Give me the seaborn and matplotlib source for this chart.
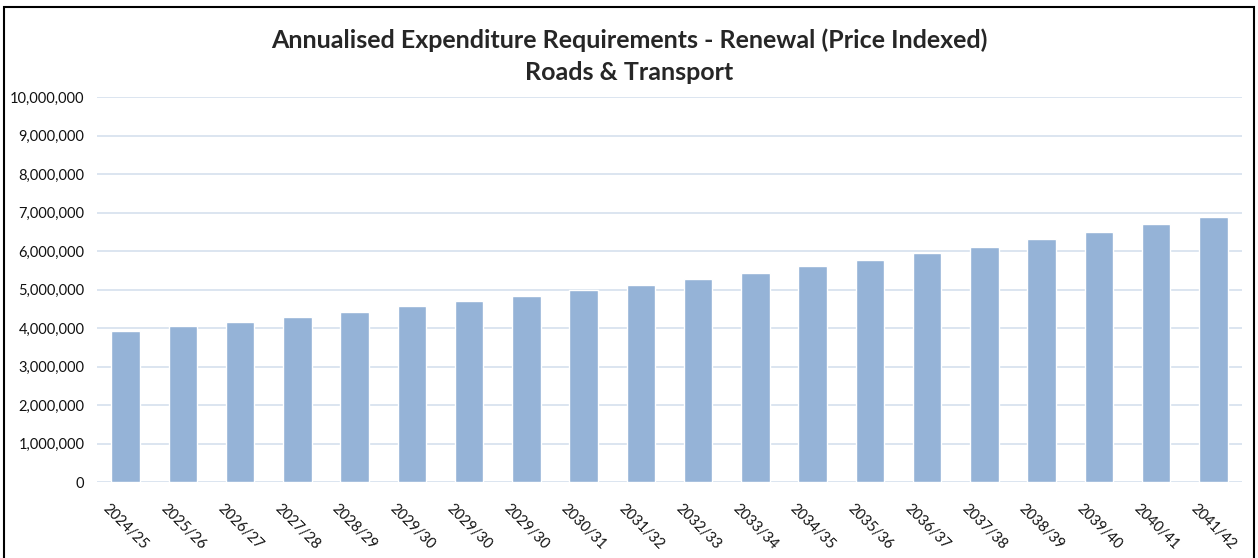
import numpy as np
import matplotlib.pyplot as plt
import matplotlib.ticker as mticker
from matplotlib.patches import Rectangle
import seaborn as sns
import pandas as pd

# Data
years = ['2024/25', '2025/26', '2026/27', '2027/28', '2028/29', '2029/30',
         '2029/30', '2029/30', '2030/31', '2031/32', '2032/33', '2033/34',
         '2034/35', '2035/36', '2036/37', '2037/38', '2038/39', '2039/40',
         '2040/41', '2041/42']
renewal = [3920000, 4050000, 4160000, 4290000, 4420000, 4560000,
           4690000, 4820000, 4980000, 5120000, 5280000, 5440000,
           5610000, 5770000, 5940000, 6110000, 6310000, 6490000,
           6690000, 6880000]

# duplicate year labels in the source, so plot by position
df = pd.DataFrame({'pos': range(len(years)), 'value': renewal})

sns.set_style('white')
plt.rcParams['font.family'] = ['Lato', 'DejaVu Sans']

fig = plt.figure(figsize=(12.58, 5.58), dpi=100)
ax = fig.add_axes([97 / 1258, 76 / 558, 1145 / 1258, 385 / 558])

sns.barplot(data=df, x='pos', y='value', color='#95B3D7', saturation=1,
            width=0.5, ax=ax, zorder=3)

ax.set_ylim(0, 10000000)
ax.set_xlim(-0.5, len(years) - 0.5)
ax.yaxis.set_major_locator(mticker.MultipleLocator(1000000))
ax.yaxis.set_major_formatter(mticker.FuncFormatter(lambda v, p: f'{int(v):,}'))
ax.grid(axis='y', color='#D5E0EE', linewidth=1.2, zorder=0)
ax.set_axisbelow(True)
for s in ax.spines.values():
    s.set_visible(False)

ax.set_xticks(range(len(years)))
ax.set_xticklabels(years, rotation=-45, ha='center', va='top', fontsize=10.5, color='#111111')
ax.tick_params(axis='y', labelsize=10.5, labelcolor='#111111', length=0, pad=9)
ax.tick_params(axis='x', length=0, pad=14)
ax.set_xlabel('')
ax.set_ylabel('')

fig.text(0.5, 1 - 40 / 558, 'Annualised Expenditure Requirements - Renewal (Price Indexed)',
         ha='center', va='center', fontsize=18, fontweight='bold')
fig.text(0.5, 1 - 73 / 558, 'Roads & Transport',
         ha='center', va='center', fontsize=18, fontweight='bold')

# chart frame
fig.patches.append(Rectangle((4 / 1258, -0.05), 1250 / 1258, 1.05 - 7 / 558,
                             transform=fig.transFigure, fill=False,
                             edgecolor='black', linewidth=1.5))

plt.savefig('out.png', dpi=100)
